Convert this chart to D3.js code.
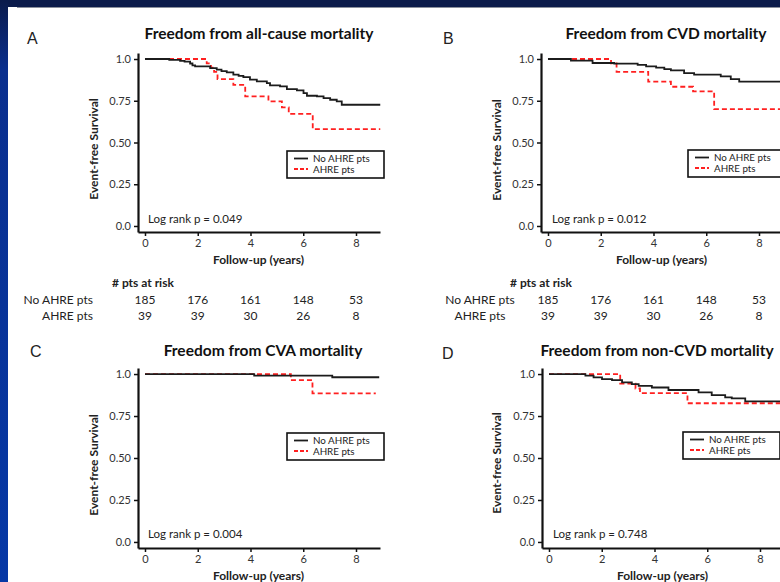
<!DOCTYPE html>
<html><head><meta charset="utf-8">
<script src="https://cdn.jsdelivr.net/npm/d3@7"></script>
<style>
html,body{margin:0;padding:0;background:#fff;}
svg{display:block;}
text{font-family:Lato,"Open Sans",sans-serif;fill:#1a1a1a;}
</style></head><body>
<svg id="chart" width="780" height="582"></svg>
<script>
// Axis ticks and the numbers-at-risk table
const yearTicks = [0, 2, 4, 6, 8];
const survivalTicks = [0, 0.25, 0.5, 0.75, 1];
const groups = ["No AHRE pts", "AHRE pts"];
const atRiskNoAhre = [185, 176, 161, 148, 53];
const atRiskAhre = [39, 39, 30, 26, 8];
const panelLetters = ["A", "B", "C", "D"];
const panelTitles = [
  "Freedom from all-cause mortality",
  "Freedom from CVD mortality",
  "Freedom from CVA mortality",
  "Freedom from non-CVD mortality"
];
const logRankP = ["0.049", "0.012", "0.004", "0.748"];

// Kaplan-Meier step curves: [follow-up years, event-free survival]
const allCauseNoAhre = [[0,1],[0.92,0.995],[1.33,0.989],[1.5,0.984],[1.71,0.973],[1.8,0.962],[1.9,0.956],[2.47,0.946],[2.72,0.936],[2.9,0.928],[3.1,0.92],[3.35,0.906],[3.55,0.899],[3.73,0.892],[3.98,0.876],[4.24,0.866],[4.62,0.856],[4.74,0.842],[5.12,0.836],[5.38,0.82],[5.76,0.812],[6.01,0.796],[6.14,0.78],[6.52,0.776],[6.77,0.766],[7.02,0.756],[7.27,0.746],[7.46,0.726],[8.92,0.726]];
const allCauseAhre = [[0,1],[2.34,0.974],[2.5,0.949],[2.62,0.923],[2.75,0.88],[3.35,0.845],[3.8,0.776],[4.68,0.746],[5.19,0.71],[5.45,0.672],[6.36,0.58],[8.92,0.58]];
const cvdNoAhre = [[0,1],[0.87,0.99],[1.69,0.976],[2.51,0.972],[3.4,0.965],[3.72,0.956],[4.1,0.948],[4.41,0.94],[4.66,0.932],[5.16,0.916],[5.54,0.906],[6.55,0.896],[6.93,0.88],[7.25,0.864],[8.95,0.864]];
const cvdAhre = [[0,1],[2.39,0.974],[2.6,0.923],[3.8,0.864],[4.66,0.834],[5.5,0.806],[6.3,0.70],[8.95,0.70]];
const cvaNoAhre = [[0,1],[4.14,0.99],[7.1,0.981],[8.88,0.981]];
const cvaAhre = [[0,1],[5.53,0.964],[6.35,0.885],[8.75,0.885]];
const nonCvdNoAhre = [[0,1],[1.38,0.99],[1.69,0.98],[2.01,0.97],[2.39,0.964],[2.77,0.95],[3.14,0.94],[3.4,0.93],[3.9,0.92],[4.53,0.905],[5.67,0.891],[6.17,0.875],[6.68,0.861],[6.93,0.855],[7.44,0.837],[8.95,0.837]];
const nonCvdAhre = [[0,1],[2.7,0.943],[3.28,0.914],[3.45,0.886],[5.25,0.826],[8.95,0.826]];

const curvesNoAhre = [allCauseNoAhre, cvdNoAhre, cvaNoAhre, nonCvdNoAhre];
const curvesAhre = [allCauseAhre, cvdAhre, cvaAhre, nonCvdAhre];

// Panel placement on the slide
const layouts = [
  {left: 138, right: 380, top: 53, bottom: 232, letter: [27, 44], title: [259, 39], yTitle: [94, 149], legend: [287, 151], logrank: [148, 223], risk: {head: [112, 287], labelX: 93, anchor: "end", rows: [304, 320]}},
  {left: 541, right: 783, top: 53, bottom: 232, letter: [443, 44], title: [666, 39], yTitle: [497, 150], legend: [688, 150], logrank: [552, 223], risk: {head: [510, 287], labelX: 480, anchor: "middle", rows: [304, 320]}},
  {left: 138, right: 380, top: 368, bottom: 548, letter: [30, 357], title: [263, 356], yTitle: [94, 465], legend: [287, 433], logrank: [148, 538], risk: null},
  {left: 542, right: 784, top: 368, bottom: 548, letter: [442, 359], title: [657, 356], yTitle: [497, 463], legend: [683, 432], logrank: [553, 538], risk: null}
];

const svg = d3.select("#chart");

// Slide frame: dark band on top, blue band at the left
const defs = svg.append("defs");
const grad = defs.append("linearGradient").attr("id", "side").attr("x1", 0).attr("y1", 0).attr("x2", 0).attr("y2", 1);
grad.append("stop").attr("offset", "0%").attr("stop-color", "#0b1b4b");
grad.append("stop").attr("offset", "12%").attr("stop-color", "#0a2f8e");
grad.append("stop").attr("offset", "100%").attr("stop-color", "#0638a6");
svg.append("rect").attr("width", 780).attr("height", 582).attr("fill", "#fff");
svg.append("rect").attr("x", 0).attr("y", 0).attr("width", 780).attr("height", 7).attr("fill", "#0b1b4b");
svg.append("rect").attr("x", 0).attr("y", 0).attr("width", 8).attr("height", 582).attr("fill", "url(#side)");
svg.append("rect").attr("x", 17).attr("y", 7).attr("width", 763).attr("height", 1).attr("fill", "#8a8f9c");

const fmtSurv = d => d === 1 ? "1.0" : d === 0 ? "0.0" : d3.format(".2f")(d);

layouts.forEach((L, i) => {
  const g = svg.append("g");
  // scales padded slightly past the data range, as the axis lines run past 0 and 1
  const x = d3.scaleLinear().domain([-0.265, 8.91]).range([L.left, L.right]);
  const y = d3.scaleLinear().domain([-0.036, 1.036]).range([L.bottom, L.top]);

  g.append("text").attr("x", L.letter[0]).attr("y", L.letter[1])
    .style("font-family", "'Liberation Sans', Arial, sans-serif").style("font-size", "16px").style("fill", "#222")
    .text(panelLetters[i]);
  g.append("text").attr("x", L.title[0]).attr("y", L.title[1]).attr("text-anchor", "middle")
    .style("font-size", "15.5px").style("font-weight", "bold").style("fill", "#111")
    .text(panelTitles[i]);

  const lineGen = d3.line().x(d => x(d[0])).y(d => y(d[1])).curve(d3.curveStepAfter);
  g.append("path").datum(curvesAhre[i]).attr("d", lineGen)
    .attr("fill", "none").attr("stroke", "#ff2020").attr("stroke-width", 1.8).attr("stroke-dasharray", "5,3");
  g.append("path").datum(curvesNoAhre[i]).attr("d", lineGen)
    .attr("fill", "none").attr("stroke", "#1c1c1c").attr("stroke-width", 1.8);

  const ax = g.append("g").attr("transform", `translate(0,${L.bottom})`)
    .call(d3.axisBottom(x).tickValues(yearTicks).tickSize(4).tickSizeOuter(0).tickPadding(3).tickFormat(d3.format("d")));
  const ay = g.append("g").attr("transform", `translate(${L.left},0)`)
    .call(d3.axisLeft(y).tickValues(survivalTicks).tickSize(4).tickSizeOuter(0).tickPadding(3).tickFormat(fmtSurv));
  [ax, ay].forEach(a => {
    a.select(".domain").attr("stroke", "#111").attr("stroke-width", 2.2);
    a.selectAll(".tick line").attr("stroke", "#111").attr("stroke-width", 1.5);
    a.selectAll(".tick text").style("font-family", "Lato, sans-serif").style("font-size", "11px").style("fill", "#333");
  });

  g.append("text").attr("transform", `translate(${L.yTitle[0]},${L.yTitle[1]}) rotate(-90)`)
    .attr("text-anchor", "middle").attr("dy", "0.35em")
    .style("font-size", "12px").style("font-weight", "bold").style("fill", "#222")
    .text("Event-free Survival");
  g.append("text").attr("x", (x(0) + x(8.91)) / 2 - 4).attr("y", L.bottom + 32).attr("text-anchor", "middle")
    .style("font-size", "12px").style("font-weight", "bold").style("fill", "#222")
    .text("Follow-up (years)");

  g.append("text").attr("x", L.logrank[0]).attr("y", L.logrank[1])
    .style("font-size", "11.5px").style("fill", "#222")
    .text("Log rank p = " + logRankP[i]);

  // legend
  const lg = g.append("g").attr("transform", `translate(${L.legend[0]},${L.legend[1]})`);
  lg.append("rect").attr("width", 97).attr("height", 27).attr("fill", "#fff").attr("stroke", "#111").attr("stroke-width", 1.6);
  groups.forEach((name, k) => {
    lg.append("line").attr("x1", 7).attr("x2", 21).attr("y1", 7.5 + k * 10.5).attr("y2", 7.5 + k * 10.5)
      .attr("stroke", k === 0 ? "#1c1c1c" : "#ff2020").attr("stroke-width", 1.8)
      .attr("stroke-dasharray", k === 0 ? null : "4,2");
    lg.append("text").attr("x", 26).attr("y", 11 + k * 10.5)
      .style("font-size", "9.8px").style("fill", "#222").text(name);
  });

  // numbers at risk
  if (L.risk) {
    const R = L.risk;
    g.append("text").attr("x", R.head[0]).attr("y", R.head[1])
      .style("font-size", "12px").style("font-weight", "bold").style("fill", "#222").text("# pts at risk");
    [atRiskNoAhre, atRiskAhre].forEach((row, k) => {
      g.append("text").attr("x", R.labelX).attr("y", R.rows[k]).attr("text-anchor", R.anchor)
        .style("font-size", "12px").style("fill", "#222").text(groups[k]);
      g.selectAll(null).data(row).enter().append("text")
        .attr("x", (d, j) => x(yearTicks[j])).attr("y", R.rows[k]).attr("text-anchor", "middle")
        .style("font-size", "12px").style("fill", "#222").text(d => d);
    });
  }
});
</script>
</body></html>
